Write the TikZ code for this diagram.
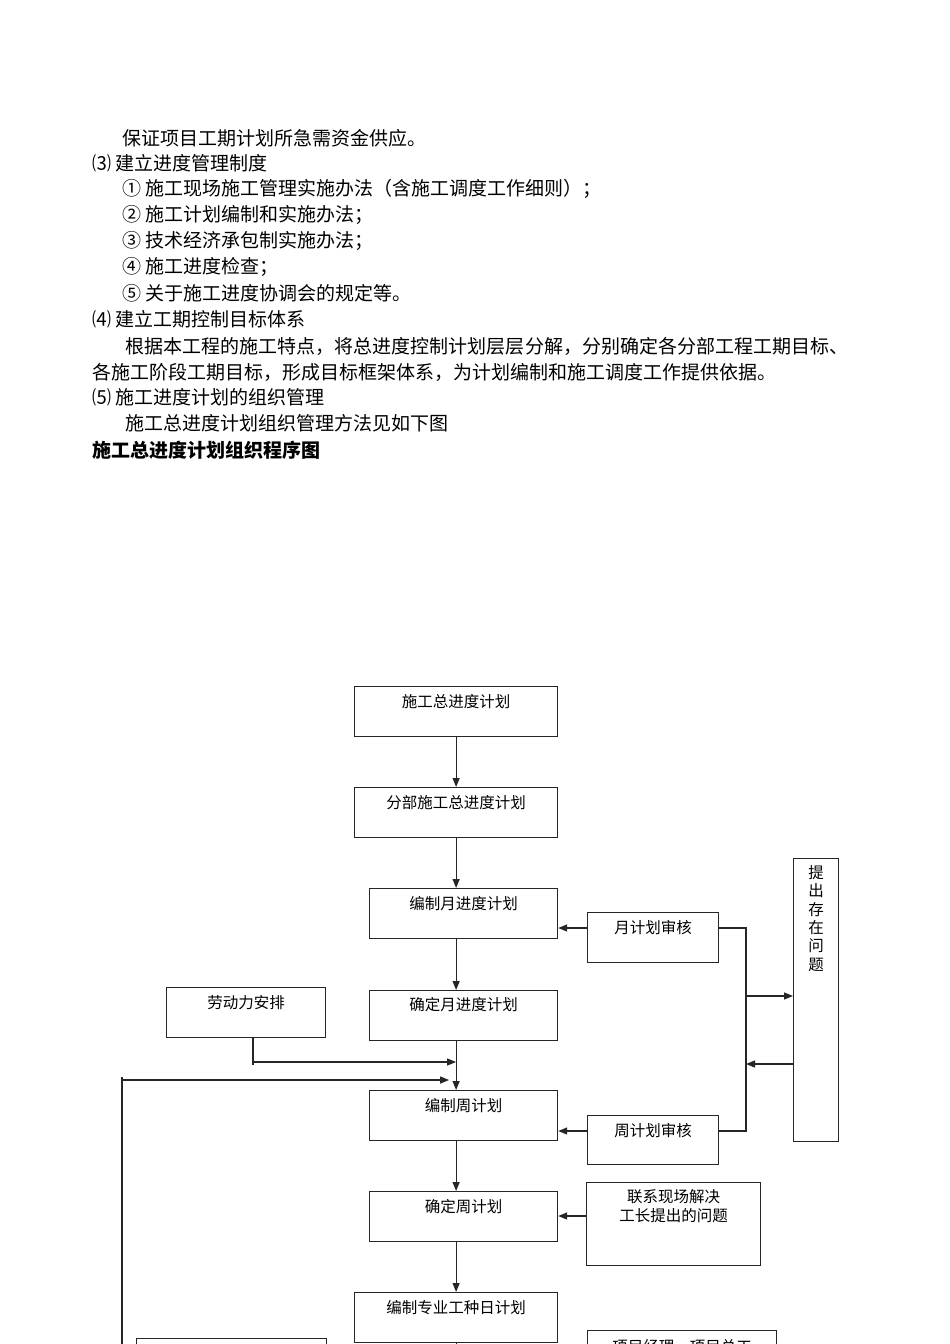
\documentclass[tikz,border=0pt]{standalone}
\usepackage{fontspec}
\setmainfont{Noto Sans CJK SC}
\usetikzlibrary{arrows.meta,calc}
\XeTeXlinebreaklocale "zh"
\XeTeXlinebreakskip=0pt plus 1pt
\begin{document}
\begin{tikzpicture}[x=1pt,y=-1pt,
  body/.style={anchor=west,inner sep=0pt,font=\fontsize{19}{26}\selectfont},
  box/.style={draw=black!85,line width=1.2pt,anchor=north west,inner sep=0pt},
  btxt/.style={inner sep=0pt,font=\fontsize{15.5}{18.4}\selectfont},
  arr/.style={draw=black!85,line width=1.2pt,-{Triangle[length=9pt,width=7pt]}},
  ln/.style={draw=black!85,line width=1.2pt}]
\useasboundingbox[fill=white] (0,0) rectangle (950,1344);

% ---- body text ----
\node[body] (t1) at (122,138) {保证项目工期计划所急需资金供应。};
\node[body] (t2) at (92,163) {⑶ 建立进度管理制度};
\node[body] (t3) at (122,189) {① 施工现场施工管理实施办法（含施工调度工作细则）；};
\node[body] (t4) at (122,215) {② 施工计划编制和实施办法；};
\node[body] (t5) at (122,241) {③ 技术经济承包制实施办法；};
\node[body] (t6) at (122,267) {④ 施工进度检查；};
\node[body] (t7) at (122,293) {⑤ 关于施工进度协调会的规定等。};
\node[body] (t8) at (92,319) {⑷ 建立工期控制目标体系};
\node[body,text width=725pt] (t9) at (125,346) {\noindent\parfillskip=0pt\relax 根据本工程的施工特点，将总进度控制计划层层分解，分别确定各分部工程工期目标、\par};
\node[body] (t10) at (92,372) {各施工阶段工期目标，形成目标框架体系，为计划编制和施工调度工作提供依据。};
\node[body] (t11) at (92,397) {⑸ 施工进度计划的组织管理};
\node[body] (t12) at (125,423) {施工总进度计划组织管理方法见如下图};
\node[body,font=\fontsize{19}{26}\selectfont\bfseries] (t13) at (92,450) {施工总进度计划组织程序图};

% ---- main column ----
\node[box,minimum width=203pt,minimum height=50pt] (b1) at (354,686) {};
\node[btxt] (b1t) at ($(b1.north)+(0,16)$) {施工总进度计划};
\node[box,minimum width=203pt,minimum height=50pt] (b2) at (354,787) {};
\node[btxt] (b2t) at ($(b2.north)+(0,16)$) {分部施工总进度计划};
\node[box,minimum width=188pt,minimum height=50pt] (b3) at (369,888) {};
\node[btxt] (b3t) at ($(b3.north)+(0,16)$) {编制月进度计划};
\node[box,minimum width=188pt,minimum height=50pt] (b4) at (369,990) {};
\node[btxt] (b4t) at ($(b4.north)+(0,15)$) {确定月进度计划};
\node[box,minimum width=188pt,minimum height=50pt] (b5) at (369,1090) {};
\node[btxt] (b5t) at ($(b5.north)+(0,16)$) {编制周计划};
\node[box,minimum width=188pt,minimum height=50pt] (b6) at (369,1191) {};
\node[btxt] (b6t) at ($(b6.north)+(0,16)$) {确定周计划};
\node[box,minimum width=203pt,minimum height=50pt] (b7) at (354,1292) {};
\node[btxt] (b7t) at ($(b7.north)+(0,16)$) {编制专业工种日计划};

% ---- right side ----
\node[box,minimum width=131pt,minimum height=50pt] (m1) at (587,912) {};
\node[btxt] (m1t) at ($(m1.north)+(0,16)$) {月计划审核};
\node[box,minimum width=131pt,minimum height=49pt] (w1) at (587,1115) {};
\node[btxt] (w1t) at ($(w1.north)+(0,16)$) {周计划审核};
\node[box,minimum width=174pt,minimum height=83pt] (lx) at (586,1182) {};
\node[btxt] (lx1) at ($(lx.north)+(0,15)$) {联系现场解决};
\node[btxt] (lx2) at ($(lx.north)+(0,34)$) {工长提出的问题};
\node[box,minimum width=45pt,minimum height=283pt] (tc) at (793,858) {};
\node[btxt,anchor=north,align=center] (tct) at ($(tc.north)+(0,7)$) {提\\出\\存\\在\\问\\题};
\node[box,minimum width=189pt,minimum height=60pt] (br) at (587,1330) {};
\node[btxt] (brt) at ($(br.north)+(0,17)$) {项目经理、项目总工};

% ---- left side ----
\node[box,minimum width=159pt,minimum height=50pt] (ld) at (166,987) {};
\node[btxt] (ldt) at ($(ld.north)+(0,16)$) {劳动力安排};
\node[box,minimum width=190pt,minimum height=60pt] (bl) at (136,1338) {};

% ---- connectors: main column ----
\draw[arr] (b1.south) -- (b2.north);
\draw[arr] (b2.south) -- (b2.south |- b3.north);
\draw[arr] (b3.south -| b1.south) -- (b4.north -| b1.south);
\draw[arr] (b4.south -| b1.south) -- (b5.north -| b1.south);
\draw[arr] (b5.south -| b1.south) -- (b6.north -| b1.south);
\draw[arr] (b6.south -| b1.south) -- (b7.north);
\coordinate (bend) at ($(b7.south)+(0,20)$);
\draw[ln] (b7.south) -- (bend);

% ---- connectors: right side ----
\draw[arr] (m1.west |- m1t) -- (b3.east |- m1t);
\draw[arr] (w1.west |- w1t) -- (b5.east |- w1t);
\draw[arr] (lx.west |- lx2) -- (b6.east |- lx2);
\coordinate (bk) at (746,929);
\draw[ln] (m1.east |- m1t) -| (bk |- w1t) -- (w1.east |- w1t);
\coordinate (p1) at (746,996);
\coordinate (p2) at (746,1064);
\draw[arr] (p1) -- (p1 -| tc.west);
\draw[arr] (p2 -| tc.west) -- (p2);

% ---- connectors: left side ----
\coordinate (l1) at (253,1062);
\draw[ln] (ld.south -| l1) -- ($(l1)+(0,3)$);
\draw[arr] (l1) -- (l1 -| b1.south);
\coordinate (f1) at (122,1080);
\coordinate (f0) at (122,1077);
\coordinate (f2) at (122,1360);
\draw[ln] (f0) -- (f2);
\draw[arr] (f1) -- ($(f1 -| b1.south)+(-7,0)$);
\end{tikzpicture}
\end{document}
